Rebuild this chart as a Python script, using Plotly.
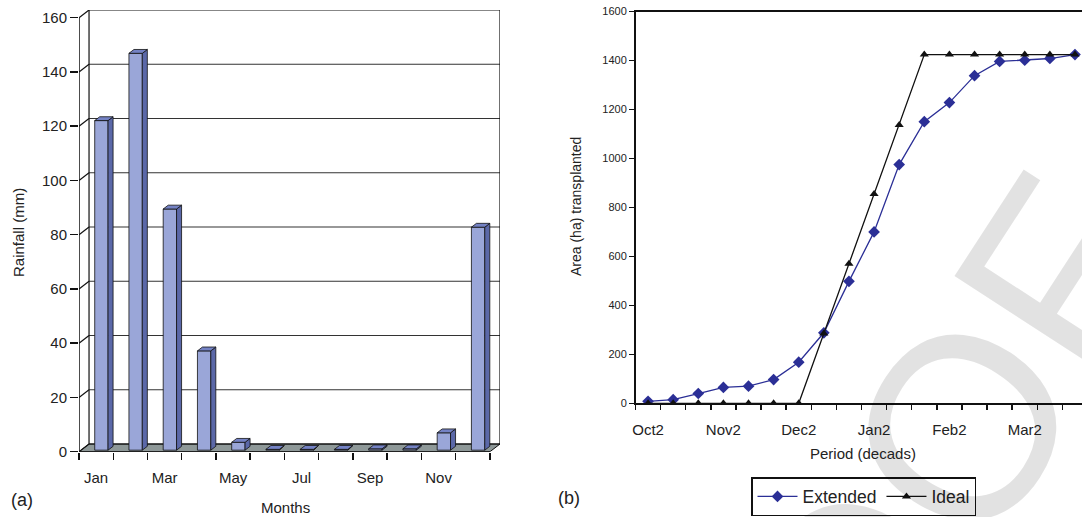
import plotly.graph_objects as go

# ---------------- data ----------------
months = ["Jan", "Feb", "Mar", "Apr", "May", "Jun", "Jul", "Aug", "Sep", "Oct", "Nov", "Dec"]
rainfall = [121.5, 146.3, 88.9, 36.6, 2.9, 0.3, 0.3, 0.3, 0.5, 0.5, 6.4, 82.2]
rain_ticks = [0, 20, 40, 60, 80, 100, 120, 140, 160]

periods = ["Oct2", "Oct3", "Nov1", "Nov2", "Nov3", "Dec1", "Dec2", "Dec3", "Jan1",
           "Jan2", "Jan3", "Feb1", "Feb2", "Feb3", "Mar1", "Mar2", "Mar3", "Apr1"]
extended = [8, 15, 40, 65, 70, 97, 168, 288, 498, 700, 975, 1150, 1228, 1338, 1396, 1401, 1408, 1424]
ideal = [0, 0, 0, 0, 0, 0, 0, 285, 570, 855, 1137, 1424, 1424, 1424, 1424, 1424, 1424, 1424]
area_ticks = [0, 200, 400, 600, 800, 1000, 1200, 1400, 1600]

# ---------------- styling / geometry constants ----------------
W, H = 1082, 517
FONT = "Liberation Sans, Arial, sans-serif"
TXT = "#222222"
DX, DY = 0.293, 2.84          # 3-D depth offset of the left chart (data units)
YMAX = 160
N = len(months)
BAR_OFF, BAR_W = 0.40, 0.39
FRONT_DEPTH = 0.2             # bar front face position inside the depth
BAR_DEPTH = 0.5
FRONT_C, SIDE_C, TOP_C = "#9aa6d8", "#5b68a8", "#7482c4"
FLOOR_C = "#8e9898"
GRID_C = "#333333"
BLUE = "#2b2f96"


def px(xp):
    return xp / W


def py(yp):
    return (H - yp) / H


fig = go.Figure()

# ---------------- left chart: 3-D columns ----------------
b0 = FRONT_DEPTH * DY
x0s = [i + BAR_OFF + FRONT_DEPTH * DX for i in range(N)]
sx, sy = BAR_DEPTH * DX, BAR_DEPTH * DY

fig.add_trace(go.Bar(
    x=[x + BAR_W / 2 for x in x0s], y=rainfall, base=b0, width=BAR_W,
    marker=dict(color=FRONT_C, line=dict(color="#111111", width=0.8)),
    xaxis="x", yaxis="y", showlegend=False, hoverinfo="skip"))

side_x, side_y, top_x, top_y = [], [], [], []
for x, v in zip(x0s, rainfall):
    xr = x + BAR_W
    side_x += [xr, xr + sx, xr + sx, xr, xr, None]
    side_y += [b0, b0 + sy, b0 + v + sy, b0 + v, b0, None]
    top_x += [x, xr, xr + sx, x + sx, x, None]
    top_y += [b0 + v, b0 + v, b0 + v + sy, b0 + v + sy, b0 + v, None]

fig.add_trace(go.Scatter(x=side_x, y=side_y, mode="lines", fill="toself",
                         fillcolor=SIDE_C, line=dict(color="#111111", width=0.8),
                         xaxis="x", yaxis="y", showlegend=False, hoverinfo="skip"))
fig.add_trace(go.Scatter(x=top_x, y=top_y, mode="lines", fill="toself",
                         fillcolor=TOP_C, line=dict(color="#111111", width=0.8),
                         xaxis="x", yaxis="y", showlegend=False, hoverinfo="skip"))

shapes = []
# floor
shapes.append(dict(type="path", xref="x", yref="y", layer="below",
                   path=f"M 0,0 L {N},0 L {N + DX},{DY} L {DX},{DY} Z",
                   fillcolor=FLOOR_C, line=dict(color="#111111", width=1)))
# back wall gridlines and side-wall diagonals
for v in rain_ticks:
    shapes.append(dict(type="line", xref="x", yref="y", layer="below",
                       x0=DX, x1=N + DX, y0=v + DY, y1=v + DY,
                       line=dict(color=GRID_C if 0 < v < YMAX else "#111111", width=1.2)))
    shapes.append(dict(type="line", xref="x", yref="y", layer="below",
                       x0=0, x1=DX, y0=v, y1=v + DY,
                       line=dict(color="#111111", width=1.2)))
# wall verticals
for xv in (DX, N + DX):
    shapes.append(dict(type="line", xref="x", yref="y", layer="below",
                       x0=xv, x1=xv, y0=DY, y1=YMAX + DY,
                       line=dict(color="#111111", width=1.2)))
# front axes
shapes.append(dict(type="line", xref="x", yref="y", x0=0, x1=N, y0=0, y1=0,
                   line=dict(color="#111111", width=1.5)))
shapes.append(dict(type="line", xref="x", yref="y", x0=0, x1=0, y0=0, y1=YMAX,
                   line=dict(color="#111111", width=1.5)))

# ---------------- right chart: lines ----------------
xi = list(range(len(periods)))
fig.add_trace(go.Scatter(x=xi, y=extended, name="Extended", mode="lines+markers",
                         line=dict(color=BLUE, width=1.3),
                         marker=dict(symbol="diamond", size=9, color=BLUE),
                         xaxis="x2", yaxis="y2"))
fig.add_trace(go.Scatter(x=xi, y=ideal, name="Ideal", mode="lines+markers",
                         line=dict(color="#111111", width=1.3),
                         marker=dict(symbol="triangle-up", size=8, color="#111111"),
                         xaxis="x2", yaxis="y2"))

lab_idx = xi[::3]


def note(text, xp, yp, size, angle=0, color=TXT, family=FONT):
    return dict(text=text, x=px(xp), y=py(yp), xref="paper", yref="paper",
                textangle=angle, showarrow=False, xanchor="center", yanchor="middle",
                font=dict(size=size, color=color, family=family))


fig.update_layout(
    template="none",
    width=W, height=H, margin=dict(l=0, r=0, t=0, b=0, pad=0), autosize=False,
    paper_bgcolor="white", plot_bgcolor="rgba(0,0,0,0)",
    font=dict(family=FONT, color=TXT),
    shapes=shapes,
    xaxis=dict(domain=[px(79), px(500)], range=[0, N + DX], showgrid=False, zeroline=False,
               showline=False, automargin=False,
               tickvals=[i + 0.5 for i in range(0, N, 2)], ticktext=months[::2],
               ticks="outside", ticklen=12, tickcolor="rgba(0,0,0,0)",
               tickfont=dict(size=15, color=TXT),
               minor=dict(tickvals=list(range(N + 1)), ticks="outside", ticklen=7,
                          tickcolor="#111111", tickwidth=1.5, showgrid=False)),
    yaxis=dict(domain=[py(451.7), py(10)], range=[0, YMAX + DY], showgrid=False,
               zeroline=False, showline=False, tickvals=rain_ticks, automargin=False,
               ticks="outside", ticklen=8, tickcolor="#111111", tickwidth=1.5,
               tickfont=dict(size=15, color=TXT)),
    xaxis2=dict(domain=[px(635.5), 1], range=[-0.5, 17.28], showgrid=False, zeroline=False,
                showline=True, linecolor="#111111", linewidth=1.5, mirror=True,
                automargin=False,
                tickvals=lab_idx, ticktext=[periods[i] for i in lab_idx],
                ticks="outside", ticklen=12, tickcolor="rgba(0,0,0,0)",
                tickfont=dict(size=15, color=TXT),
                minor=dict(tickvals=[i - 0.5 for i in range(len(periods) + 1)], ticks="outside",
                           ticklen=5, tickcolor="#111111", tickwidth=1.5, showgrid=False),
                anchor="y2"),
    yaxis2=dict(domain=[py(403.3), py(11.5)], range=[0, 1600], showgrid=False, zeroline=False,
                showline=True, linecolor="#111111", linewidth=1.5, automargin=False,
                tickvals=area_ticks, ticks="outside", ticklen=5, tickcolor="#111111",
                tickwidth=1.2, tickfont=dict(size=11, color=TXT), anchor="x2"),
    legend=dict(orientation="h", x=px(863.5), xanchor="center", y=py(477), yanchor="top",
                bordercolor="#111111", borderwidth=1.5, bgcolor="white",
                font=dict(size=17.5, color=TXT), itemwidth=40, tracegroupgap=0),
    annotations=[
        note("PROOF", 852, 597, 260, angle=-57, color="rgba(0,0,0,0.115)"),
        note("Rainfall (mm)", 19, 233, 15, angle=-90),
        note("Months", 285, 507, 15),
        note("Area (ha) transplanted", 576, 207, 14, angle=-90),
        note("Period (decads)", 863, 453, 15),
        note("(a)", 22, 500, 18),
        note("(b)", 569, 498, 18),
    ],
)

fig.write_html(
    "out.html",
    config={"displayModeBar": False, "staticPlot": True},
    post_script="document.body.style.margin='0px';document.body.style.overflow='hidden';",
)
